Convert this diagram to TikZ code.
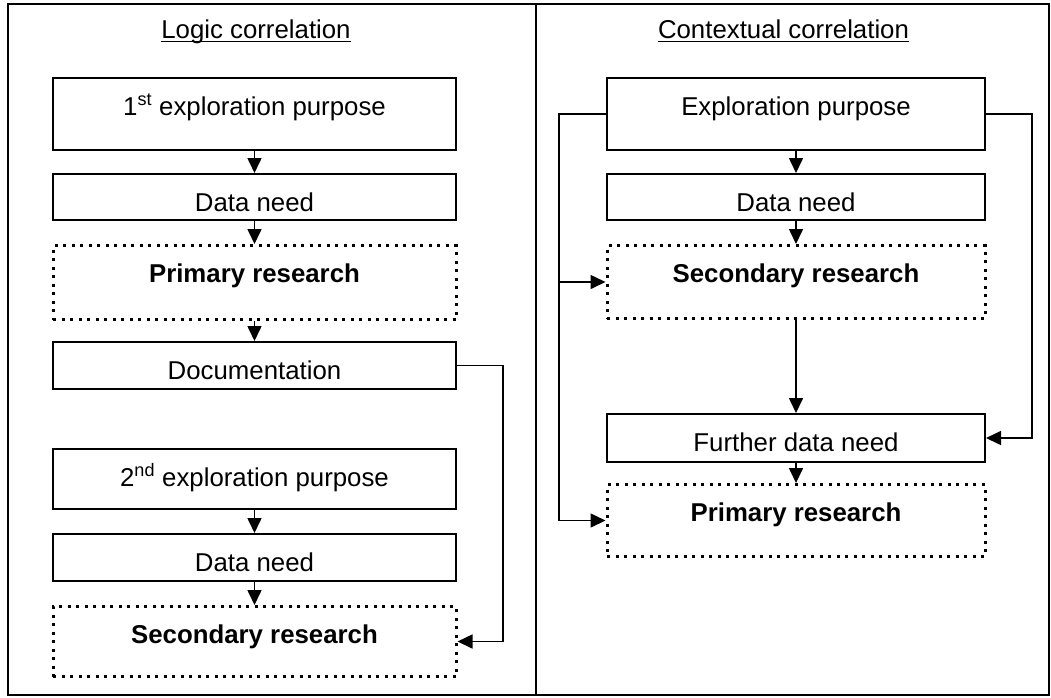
\documentclass[tikz,border=0pt]{standalone}
\usepackage{fontspec}
\setmainfont{Liberation Sans}
\usetikzlibrary{arrows.meta}
\begin{document}
\begin{tikzpicture}[x=1pt,y=-1pt,
  every node/.style={font=\fontsize{25.8}{30}\selectfont},
  box/.style={draw, line width=2pt, inner xsep=0pt, inner ysep=0pt,
              anchor=north, text height=37pt},
  leftbox/.style={box, minimum width=403pt},
  rightbox/.style={box, minimum width=378pt},
  dotted box/.style={line width=3pt, dash pattern=on 3pt off 5.5pt},
  link/.style={line width=1.6pt, -{Triangle[length=15pt,width=14pt]}},
  title/.style={anchor=base, inner sep=0pt},
  underbar/.style={line width=1.5pt},
  frame/.style={line width=2pt},
]
\useasboundingbox (0,0) rectangle (1051,697);

% table frame and column divider
\draw[frame] (8,4) rectangle (1049,695);
\draw[frame] (536,4) -- (536,695);

% column headings
\node[title] (tL) at (256,38) {Logic correlation};
\node[title] (tR) at (783.5,38) {Contextual correlation};
\draw[underbar] ([yshift=-3.5pt]tL.base west) -- ([yshift=-3.5pt]tL.base east);
\draw[underbar] ([yshift=-3.5pt]tR.base west) -- ([yshift=-3.5pt]tR.base east);

% left column: logic correlation
\node[leftbox, text depth=35pt] (l1) at (254.5,77) {1\textsuperscript{st} exploration purpose};
\node[leftbox, text depth=9pt]  (l2) at (254.5,173) {Data need};
\node[leftbox, dotted box, text depth=37pt] (l3) at (254.5,244) {\textbf{Primary research}};
\node[leftbox, text depth=10pt] (l4) at (254.5,341) {Documentation};
\node[leftbox, text depth=23pt] (l5) at (254.5,448) {2\textsuperscript{nd} exploration purpose};
\node[leftbox, text depth=10pt] (l6) at (254.5,533) {Data need};
\node[leftbox, dotted box, text depth=33pt] (l7) at (254.5,605) {\textbf{Secondary research}};

\draw[link] (l1) -- (l2);
\draw[link] (l2) -- (l3);
\draw[link] (l3) -- (l4);
\draw[link] (l5) -- (l6);
\draw[link] (l6) -- (l7);

\coordinate (lx) at (503,0);
\draw[link] (l4.east) -- (l4.east -| lx) |- (l7.east);

% right column: contextual correlation
\node[rightbox, text depth=35pt] (r1) at (796,77) {Exploration purpose};
\node[rightbox, text depth=9pt]  (r2) at (796,173) {Data need};
\node[rightbox, dotted box, text depth=36pt] (r3) at (796,244) {\textbf{Secondary research}};
\node[rightbox, text depth=11pt] (r4) at (796,413) {Further data need};
\node[rightbox, dotted box, text depth=35pt] (r5) at (796,483) {\textbf{Primary research}};

\draw[link] (r1) -- (r2);
\draw[link] (r2) -- (r3);
\draw[link] (r3) -- (r4);
\draw[link] (r4) -- (r5);

\coordinate (rl) at (559,0);
\coordinate (rr) at (1032,0);
\draw[link] (r1.west) -- (r1.west -| rl) |- (r5.west);
\draw[link] (rl |- r3.west) -- (r3.west);
\draw[link] (r1.east) -- (r1.east -| rr) |- (r4.east);
\end{tikzpicture}
\end{document}
